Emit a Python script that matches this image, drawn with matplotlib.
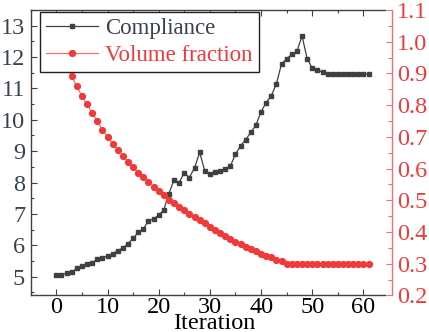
import matplotlib
matplotlib.use("Agg")
import matplotlib.pyplot as plt
from matplotlib.ticker import MultipleLocator

iterations = list(range(62))
compliance = [5.04, 5.06, 5.11, 5.15, 5.26, 5.35, 5.41, 5.45, 5.55, 5.61,
              5.66, 5.73, 5.83, 5.92, 6.05, 6.22, 6.41, 6.52, 6.78, 6.84,
              6.96, 7.13, 7.65, 8.09, 8.00, 8.31, 8.16, 8.47, 8.96, 8.37,
              8.28, 8.35, 8.38, 8.43, 8.53, 8.90, 9.17, 9.37, 9.60, 9.83,
              10.26, 10.55, 10.77, 11.15, 11.79, 11.94, 12.09, 12.19, 12.67, 11.95,
              11.64, 11.58, 11.52, 11.47, 11.46, 11.46, 11.46, 11.46, 11.46, 11.46,
              11.46, 11.46]
volume = [0.99, 0.955, 0.922, 0.891, 0.860, 0.828, 0.802, 0.776, 0.750, 0.723,
          0.700, 0.679, 0.659, 0.641, 0.621, 0.604, 0.587, 0.572, 0.558, 0.543,
          0.528, 0.516, 0.502, 0.491, 0.479, 0.468, 0.458, 0.448, 0.437, 0.428,
          0.416, 0.407, 0.396, 0.386, 0.378, 0.370, 0.361, 0.353, 0.347, 0.339,
          0.331, 0.325, 0.320, 0.311, 0.308, 0.300, 0.300, 0.300, 0.300, 0.300,
          0.300, 0.300, 0.300, 0.300, 0.300, 0.300, 0.300, 0.300, 0.300, 0.300,
          0.300, 0.300]

plt.rcParams['font.family'] = ['Liberation Serif', 'DejaVu Serif']
plt.rcParams['mathtext.fontset'] = 'stix'

GRAY = '#404040'
LBL_GRAY = '#38434f'
RED = '#f03a3a'
RED_LINE = '#f07070'

fig = plt.figure(figsize=(4.29, 3.32), dpi=100)
ax = fig.add_axes([0.0716, 0.110, 0.8258, 0.860])
ax2 = ax.twinx()

l1, = ax.plot(iterations, compliance, color=GRAY, lw=0.9, marker='s',
              markersize=3.4, markerfacecolor=GRAY, markeredgecolor=GRAY,
              label='Compliance')
l2, = ax2.plot(iterations, volume, color=RED_LINE, lw=0.9, marker='o',
               markersize=4.2, markerfacecolor=RED, markeredgecolor=RED,
               label='Volume fraction')

ax.set_xlim(-5, 64.2)
ax.set_ylim(4.4, 13.5)
ax2.set_ylim(0.2, 1.1)

ax.xaxis.set_major_locator(MultipleLocator(10))
ax.xaxis.set_minor_locator(MultipleLocator(5))
ax.yaxis.set_major_locator(MultipleLocator(1))
ax.yaxis.set_minor_locator(MultipleLocator(0.5))
ax2.yaxis.set_major_locator(MultipleLocator(0.1))
ax2.yaxis.set_minor_locator(MultipleLocator(0.05))

for s in ['left', 'top', 'bottom']:
    ax.spines[s].set_color(GRAY)
    ax.spines[s].set_linewidth(1.0)
ax.spines['right'].set_visible(False)
for s in ['left', 'top', 'bottom']:
    ax2.spines[s].set_visible(False)
ax2.spines['right'].set_position(('outward', 5))
ax2.spines['right'].set_color(RED_LINE)
ax2.spines['right'].set_linewidth(1.0)

ax.tick_params(axis='x', which='both', direction='in', top=True, bottom=True,
               colors=GRAY, labelcolor='black', labelsize=17.5, pad=1.0)
ax.tick_params(axis='x', which='major', length=4, width=0.8)
ax.tick_params(axis='x', which='minor', length=2.5, width=0.8)
ax.tick_params(axis='y', which='both', direction='in', left=True, right=False,
               colors=GRAY, labelcolor=LBL_GRAY, labelsize=17.5, pad=4)
ax.tick_params(axis='y', which='major', length=4, width=0.8)
ax.tick_params(axis='y', which='minor', length=2.5, width=0.8)
ax2.tick_params(axis='y', which='both', direction='in', colors=RED_LINE,
                labelcolor=RED, labelsize=17.5, pad=3.5)
ax2.tick_params(axis='y', which='major', length=4, width=0.8)
ax2.tick_params(axis='y', which='minor', length=2.8, width=0.8)

ax.set_xlabel('Iteration', fontsize=17.5)
ax.xaxis.set_label_coords(0.518, -0.060, transform=ax.transAxes)
ax.xaxis.label.set_va('top')

leg = ax2.legend(handles=[l1, l2], loc='upper left',
                 bbox_to_anchor=(0.026, 0.994), borderaxespad=0,
                 fontsize=16.5, frameon=True, fancybox=False,
                 handlelength=2.25, handletextpad=0.3, borderpad=0.28,
                 labelspacing=0.25)
leg.get_frame().set_edgecolor('#202020')
leg.get_frame().set_linewidth(1.0)
leg.get_frame().set_alpha(1)
leg.get_texts()[0].set_color(LBL_GRAY)
leg.get_texts()[1].set_color(RED)

fig.savefig('out.png', dpi=100)
